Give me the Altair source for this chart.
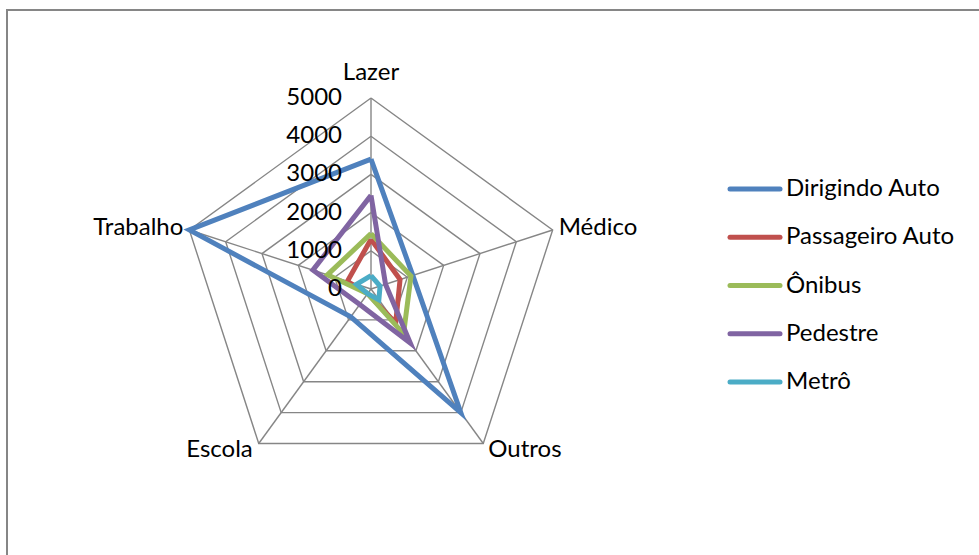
import math
import altair as alt
import pandas as pd

# Radar chart: trips by purpose and travel mode
categories = ["Lazer", "Médico", "Outros", "Escola", "Trabalho"]
series = ["Dirigindo Auto", "Passageiro Auto", "Ônibus", "Pedestre", "Metrô"]
colors = ["#4F81BD", "#C0504D", "#9BBB59", "#8064A2", "#4BACC6"]

dirigindo_auto = [3400, 1150, 4000, 900, 5000]
passageiro_auto = [1300, 800, 1100, 150, 650]
onibus = [1450, 1100, 1450, 150, 1200]
pedestre = [2450, 400, 1750, 500, 1600]
metro = [350, 250, 350, 150, 400]

tick_values = [0, 1000, 2000, 3000, 4000, 5000]
r_max = 5000

FONT = "Lato"
FS = 24
GRID = "#868686"

values_by_series = [dirigindo_auto, passageiro_auto, onibus, pedestre, metro]

# long table; the first category is repeated at the end to close each polygon
rows = []
for s_i, (name, vals) in enumerate(zip(series, values_by_series)):
    for k in range(len(categories) + 1):
        idx = k % len(categories)
        rows.append({"series": name, "s": s_i, "k": k, "idx": idx,
                     "category": categories[idx], "value": vals[idx]})
df = pd.DataFrame(rows)

grid_rows = []
for lvl in tick_values[1:]:
    for k in range(len(categories) + 1):
        grid_rows.append({"level": lvl, "k": k, "idx": k % len(categories)})
grid_df = pd.DataFrame(grid_rows)

spoke_df = pd.DataFrame({"idx": list(range(len(categories))), "category": categories,
                         "value": [r_max] * len(categories)})
tick_df = pd.DataFrame({"level": tick_values, "label": [str(v) for v in tick_values]})

# data units per pixel: 5000 spans 191 px, centre at (371, 289) in a 979x555 area
U = r_max / 191.0
xdom = [-371 * U, (979 - 371) * U]
ydom = [-(555 - 289) * U, 289 * U]
xs = alt.Scale(domain=xdom, nice=False, zero=False)
ys = alt.Scale(domain=ydom, nice=False, zero=False)

N = len(categories)
ang = f"datum.idx * 2 * PI / {N}"


def X(field="px"):
    return alt.X(f"{field}:Q", scale=xs, axis=None)


def Y(field="py"):
    return alt.Y(f"{field}:Q", scale=ys, axis=None)


grid = alt.Chart(grid_df).transform_calculate(
    px=f"datum.level * sin({ang})", py=f"datum.level * cos({ang})"
).mark_line(stroke=GRID, strokeWidth=1.4).encode(
    x=X(), y=Y(), detail="level:N", order="k:Q"
)

spokes = alt.Chart(spoke_df).transform_calculate(
    px=f"datum.value * sin({ang})", py=f"datum.value * cos({ang})", zx="0", zy="0"
).mark_rule(stroke=GRID, strokeWidth=1.4).encode(
    x=X("zx"), y=Y("zy"), x2="px:Q", y2="py:Q"
)

ticks = alt.Chart(tick_df).transform_calculate(
    px="0", py="datum.level"
).mark_text(align="right", baseline="middle", dx=-29, font=FONT, fontSize=FS,
            color="#000000").encode(x=X(), y=Y(), text="label:N")

lines = alt.Chart(df).transform_calculate(
    px=f"datum.value * sin({ang})", py=f"datum.value * cos({ang})"
).mark_line(strokeWidth=5, strokeJoin="miter").encode(
    x=X(), y=Y(),
    color=alt.Color("series:N", scale=alt.Scale(domain=series, range=colors), legend=None),
    order="k:Q",
)

label_base = alt.Chart(spoke_df).transform_calculate(
    px=f"datum.value * sin({ang})", py=f"datum.value * cos({ang})"
)


def cat_label(name, **kw):
    return label_base.transform_filter(alt.datum.category == name).mark_text(
        font=FONT, fontSize=FS, color="#000000", baseline="middle", **kw
    ).encode(x=X(), y=Y(), text="category:N")


cat_labels = [
    cat_label("Lazer", align="center", dy=-25),
    cat_label("Médico", align="left", dx=6, dy=-2),
    cat_label("Outros", align="left", dx=5, dy=6),
    cat_label("Escola", align="right", dx=-6, dy=6),
    cat_label("Trabalho", align="right", dx=-6, dy=-2),
]

# legend drawn as short line swatches with labels
leg_df = pd.DataFrame({"series": series})
leg_y = alt.Y("series:N", scale=alt.Scale(type="point", domain=series, range=[189, 382], padding=0),
              axis=None)
leg_lines = alt.Chart(leg_df).mark_rule(strokeWidth=5, strokeCap="round").encode(
    x=alt.value(730), x2=alt.value(780), y=leg_y,
    color=alt.Color("series:N", scale=alt.Scale(domain=series, range=colors), legend=None),
)
leg_text = alt.Chart(leg_df).mark_text(align="left", baseline="middle", font=FONT, fontSize=FS,
                                        color="#000000").encode(
    x=alt.value(786), y=leg_y, text="series:N"
)
legend = alt.layer(leg_lines, leg_text)

frame_df = pd.DataFrame({"a": [0]})
frame_left = alt.Chart(frame_df).mark_rule(stroke=GRID, strokeWidth=2).encode(
    x=alt.value(7), y=alt.value(10), y2=alt.value(555)
)
frame_top = alt.Chart(frame_df).mark_rule(stroke=GRID, strokeWidth=2).encode(
    x=alt.value(6), x2=alt.value(979), y=alt.value(10)
)

radar = alt.layer(grid, spokes, lines, ticks, *cat_labels)

chart = alt.layer(radar, legend, frame_left, frame_top).resolve_scale(
    x="independent", y="independent", color="independent"
).properties(
    width=979, height=555, padding=0, autosize=alt.AutoSizeParams(type="none"),
    background="#FFFFFF",
).configure_view(stroke=None)

chart.save("out.html", embed_options={"renderer": "svg", "actions": False})
